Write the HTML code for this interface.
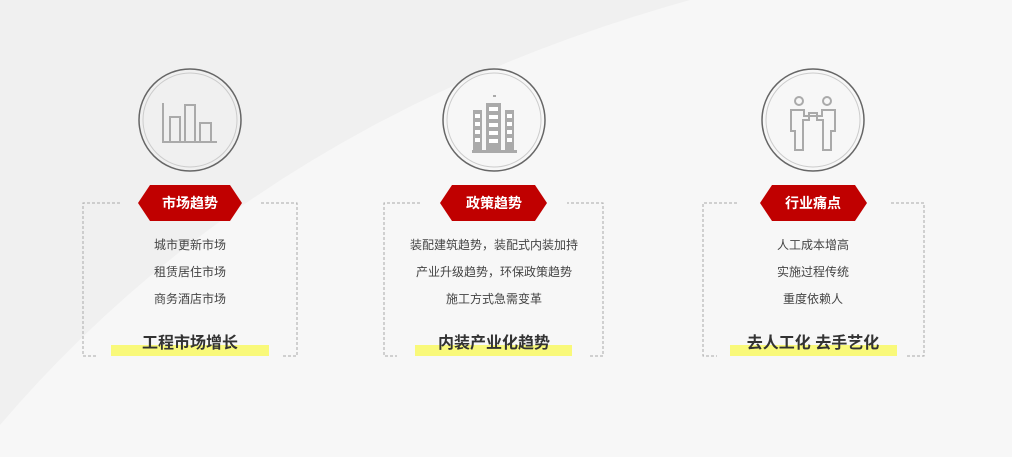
<!DOCTYPE html>
<html><head><meta charset="utf-8"><style>
html,body{margin:0;padding:0;width:1012px;height:457px;overflow:hidden;background:#f7f7f7}
svg text{font-family:"Liberation Sans","Noto Sans CJK SC",sans-serif}
</style></head><body>
<svg width="1012" height="457" viewBox="0 0 1012 457" xmlns="http://www.w3.org/2000/svg">
<rect width="1012" height="457" fill="#f7f7f7"/>
<path d="M0,425 Q260,120 690,0 L0,0 Z" fill="#f0f0f0"/>
<g stroke="#aaa" stroke-width="1" stroke-dasharray="3,2" fill="none">
<path d="M120,203 H83 V356 H97 M283,356 H297 V203 H260"/>
<path d="M420,203 H384 V356 H397 M590,356 H603 V203 H567"/>
<path d="M737,203 H703 V356 H717 M907,356 H924 V203 H890"/>
</g>
<g fill="#f9f97a">
<rect x="111" y="345" width="158" height="11"/>
<rect x="415" y="345" width="157" height="11"/>
<rect x="730" y="345" width="167" height="11"/>
</g>
<g fill="none">
<circle cx="190" cy="120" r="51" stroke="#666" stroke-width="1.5"/><circle cx="190" cy="120" r="47" stroke="#ccc" stroke-width="1"/>
<circle cx="494" cy="120" r="51" stroke="#666" stroke-width="1.5"/><circle cx="494" cy="120" r="47" stroke="#ccc" stroke-width="1"/>
<circle cx="813" cy="120" r="51" stroke="#666" stroke-width="1.5"/><circle cx="813" cy="120" r="47" stroke="#ccc" stroke-width="1"/>
</g>
<g stroke="#aaa" stroke-width="2" fill="none">
<path d="M163,103 V142 H217"/>
<rect x="170" y="117" width="10" height="25"/>
<rect x="185" y="105" width="10" height="37"/>
<rect x="200" y="123" width="11" height="19"/>
</g>
<g fill="#aaa">
<rect x="472" y="150" width="45" height="3"/>
<rect x="473" y="110" width="9" height="40"/>
<rect x="486" y="103" width="15" height="47"/>
<rect x="505" y="110" width="9" height="40"/>
<rect x="493" y="95" width="3" height="2"/>
</g>
<g fill="#fff">
<rect x="475" y="114" width="5" height="4"/><rect x="475" y="122" width="5" height="4"/><rect x="475" y="130" width="5" height="4"/><rect x="475" y="138" width="5" height="4"/>
<rect x="507" y="114" width="5" height="4"/><rect x="507" y="122" width="5" height="4"/><rect x="507" y="130" width="5" height="4"/><rect x="507" y="138" width="5" height="4"/>
<rect x="489" y="107" width="9" height="4"/><rect x="489" y="115" width="9" height="4"/><rect x="489" y="123" width="9" height="4"/><rect x="489" y="131" width="9" height="4"/><rect x="489" y="139" width="9" height="4"/>
</g>
<g stroke="#aaa" stroke-width="2" fill="none">
<circle cx="799" cy="101" r="4"/><circle cx="827" cy="101" r="4"/>
<path d="M791,110 V131 H795 V150 H803 V120 H809 V113 H817 V120 H823 V150 H831 V131 H835 V110 H822 V116 H804 V110 Z"/>
</g>
<g fill="#c00000">
<polygon points="138,203 150,185 230,185 242,203 230,221 150,221"/>
<polygon points="440,203 452,185 535,185 547,203 535,221 452,221"/>
<polygon points="760,203 772,185 855,185 867,203 855,221 772,221"/>
</g>
<g fill="#fff" font-size="14" font-weight="bold" text-anchor="middle">
<text x="190" y="208">市场趋势</text>
<text x="494" y="208">政策趋势</text>
<text x="813" y="208">行业痛点</text>
</g>
<g fill="#444" font-size="12" text-anchor="middle">
<text x="190" y="249">城市更新市场</text><text x="190" y="276">租赁居住市场</text><text x="190" y="303">商务酒店市场</text>
<text x="494" y="249">装配建筑趋势，装配式内装加持</text><text x="494" y="276">产业升级趋势，环保政策趋势</text><text x="494" y="303">施工方式急需变革</text>
<text x="813" y="249">人工成本增高</text><text x="813" y="276">实施过程传统</text><text x="813" y="303">重度依赖人</text>
</g>
<g fill="#333" font-size="16" font-weight="bold" text-anchor="middle">
<text x="190" y="348">工程市场增长</text>
<text x="494" y="348">内装产业化趋势</text>
<text x="813" y="348">去人工化 去手艺化</text>
</g>
</svg>
</body></html>
